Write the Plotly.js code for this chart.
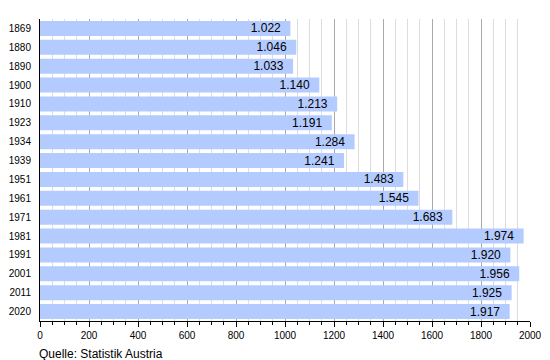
<!DOCTYPE html>
<html><head><meta charset="utf-8">
<script src="https://cdn.plot.ly/plotly-3.0.1.min.js"></script>
<style>body{margin:0;background:#fff}#c{width:550px;height:360px}</style>
</head><body><div id="c"></div>
<script>
const years = ['1869','1880','1890','1900','1910','1923','1934','1939','1951','1961','1971','1981','1991','2001','2011','2020'];
const population = [1022,1046,1033,1140,1213,1191,1284,1241,1483,1545,1683,1974,1920,1956,1925,1917];
const sourceNote = 'Quelle: Statistik Austria';

const labels = population.map(v => {
  const s = String(v);
  return (s.length > 3 ? s.slice(0, s.length-3) + '.' + s.slice(-3) : s) + '\u00a0\u00a0';
});

const font = 'Liberation Sans, Arial, sans-serif';
Plotly.newPlot('c', [{
  type: 'bar', orientation: 'h',
  x: population, y: years,
  text: labels, textposition: 'inside', insidetextanchor: 'end',
  textfont: {family: font, size: 12, color: '#000'},
  marker: {color: '#b3cbff', line: {width: 0}},
  hoverinfo: 'none', cliponaxis: false
}], {
  width: 550, height: 360,
  margin: {l: 40, r: 20, t: 19, b: 39},
  paper_bgcolor: '#fff', plot_bgcolor: '#fff',
  bargap: 0.2,
  uniformtext: {mode: 'show', minsize: 12},
  showlegend: false,
  font: {family: font, size: 10, color: '#000'},
  xaxis: {
    range: [0, 2000], dtick: 200, tick0: 0,
    showgrid: true, gridcolor: '#aaaaaa', gridwidth: 1,
    ticks: 'outside', ticklen: 5, tickcolor: '#000', tickwidth: 1,
    showline: true, linecolor: '#000', linewidth: 1,
    zeroline: false,
    tickfont: {family: font, size: 10, color: '#000'},
    minor: {dtick: 50, showgrid: true, gridcolor: '#dddddd', gridwidth: 1, ticks: 'outside', ticklen: 3, tickcolor: '#000'}
  },
  yaxis: {
    autorange: 'reversed', type: 'category',
    showgrid: false, zeroline: false,
    showline: true, linecolor: '#000', linewidth: 1,
    ticks: '', ticklen: 0, ticklabelstandoff: 6,
    tickfont: {family: font, size: 10, color: '#000'}
  },
  annotations: [{
    text: sourceNote, xref: 'paper', yref: 'paper', x: -0.006, y: -0.08,
    xanchor: 'left', yanchor: 'top', showarrow: false,
    font: {family: font, size: 12, color: '#000'}
  }]
}, {staticPlot: true});
</script></body></html>
